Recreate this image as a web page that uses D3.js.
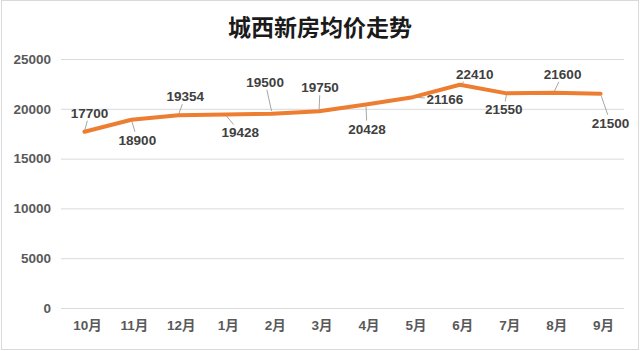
<!DOCTYPE html>
<html>
<head>
<meta charset="utf-8">
<script src="https://cdn.jsdelivr.net/npm/d3@7"></script>
<style>
  body { margin: 0; background: #fff; }
</style>
</head>
<body>
<div id="viz-container"></div>
<script>
// chart data
const months = ["10月", "11月", "12月", "1月", "2月", "3月", "4月", "5月", "6月", "7月", "8月", "9月"];
const prices = [17700, 18900, 19354, 19428, 19500, 19750, 20428, 21166, 22410, 21550, 21600, 21500];
const yTicks = [0, 5000, 10000, 15000, 20000, 25000];

// where each data label sits relative to its point (px)
const labelOffsets = [[5, -19], [6, 20], [7, -19], [15, 18], [-7, -32], [1, -24],
                      [1, 24], [32, 2], [15, -11], [-3, 16], [9, -19], [10, 29]];

const W = 640, H = 351;
const margin = { top: 59, right: 16, bottom: 43, left: 61 },
    width = W - margin.left - margin.right,
    height = H - margin.top - margin.bottom;

const svg = d3.select("#viz-container")
    .append("svg")
    .attr("width", W)
    .attr("height", H);

// frame
svg.append("rect")
    .attr("x", 1.5).attr("y", 0.5)
    .attr("width", W - 3).attr("height", H - 2)
    .attr("fill", "#fff")
    .attr("stroke", "#d9d9d9");

const chart = svg.append("g")
    .attr("transform", `translate(${margin.left},${margin.top})`);

const x = d3.scaleBand()
    .domain(months)
    .range([0, width]);

const y = d3.scaleLinear()
    .domain([0, 25000])
    .range([height, 0]);

// gridlines
chart.append("g")
    .selectAll("line")
    .data(yTicks)
    .join("line")
    .attr("x1", 0).attr("x2", width)
    .attr("y1", d => y(d) + 0.5).attr("y2", d => y(d) + 0.5)
    .attr("stroke", "#d9d9d9")
    .attr("stroke-width", 1);

// y axis labels
const yAxis = chart.append("g")
    .call(d3.axisLeft(y).tickValues(yTicks).tickFormat(d3.format("d")).tickSize(0).tickPadding(10));
yAxis.select(".domain").remove();
yAxis.selectAll("text")
    .attr("font-family", "Liberation Sans, Arial, sans-serif")
    .attr("font-weight", "bold")
    .attr("font-size", "13.5px")
    .attr("fill", "#595959");

// x axis labels
const xAxis = chart.append("g")
    .attr("transform", `translate(0,${height})`)
    .call(d3.axisBottom(x).tickSize(0).tickPadding(12));
xAxis.select(".domain").remove();
xAxis.selectAll("text")
    .attr("font-family", "Liberation Sans, Noto Sans CJK SC, sans-serif")
    .attr("font-weight", "bold")
    .attr("font-size", "13.5px")
    .attr("fill", "#595959")
    .attr("dx", "3px");

const pts = months.map((m, i) => ({
    m, v: prices[i],
    px: x(m) + x.bandwidth() / 2,
    py: y(prices[i]),
    dx: labelOffsets[i][0], dy: labelOffsets[i][1]
}));

// leader lines: from the point towards the label, stopping at the label box
chart.append("g")
    .selectAll("line")
    .data(pts)
    .join("line")
    .each(function (d) {
        const vx = d.dx, vy = d.dy;
        const t = Math.max(1 - 20 / Math.abs(vx || 1e-9), 1 - 8 / Math.abs(vy || 1e-9), 0);
        d3.select(this)
            .attr("x1", d.px + vx * 0.08).attr("y1", d.py + vy * 0.08)
            .attr("x2", d.px + vx * t).attr("y2", d.py + vy * t)
            .attr("stroke", "#a6a6a6")
            .attr("stroke-width", 1)
            .attr("display", t * Math.hypot(vx, vy) > 4 ? null : "none");
    });

// line
const line = d3.line()
    .x(d => d.px)
    .y(d => d.py);

chart.append("path")
    .datum(pts)
    .attr("fill", "none")
    .attr("stroke", "#ed7d31")
    .attr("stroke-width", 4)
    .attr("stroke-linejoin", "round")
    .attr("stroke-linecap", "round")
    .attr("d", line);

// data labels
chart.append("g")
    .selectAll("text")
    .data(pts)
    .join("text")
    .attr("x", d => d.px + d.dx)
    .attr("y", d => d.py + d.dy + 5)
    .attr("text-anchor", "middle")
    .attr("font-family", "Liberation Sans, Arial, sans-serif")
    .attr("font-weight", "bold")
    .attr("font-size", "13.5px")
    .attr("fill", "#404040")
    .text(d => d.v);

// title
svg.append("text")
    .attr("x", W / 2)
    .attr("y", 36)
    .attr("text-anchor", "middle")
    .attr("font-family", "Noto Sans CJK SC, sans-serif")
    .attr("font-weight", "bold")
    .attr("font-size", "23px")
    .attr("fill", "#1a1a1a")
    .text("城西新房均价走势");
</script>
</body>
</html>
